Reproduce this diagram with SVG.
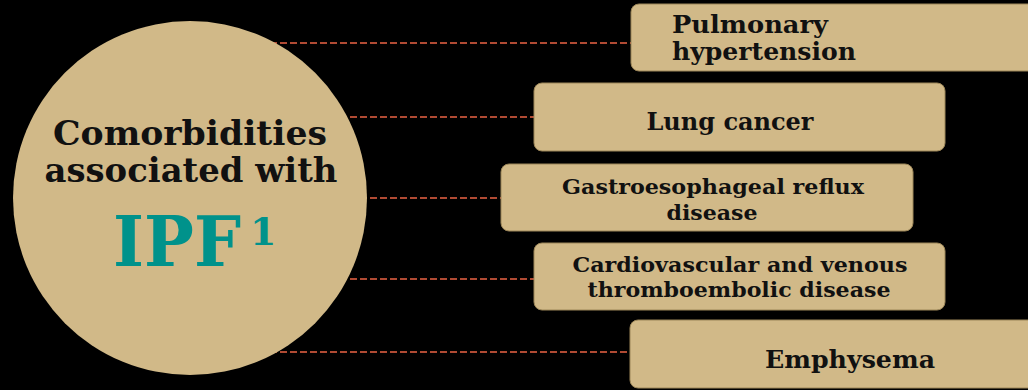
<svg xmlns="http://www.w3.org/2000/svg" width="1028" height="390" viewBox="0 0 1028 390">
<style>
.bg{fill:#000}
.shape{fill:#d1b988;stroke:#9c8658;stroke-width:1}
.conn{stroke:#b04a33;stroke-width:2;stroke-dasharray:7 3;fill:none}
.t{font-family:"DejaVu Serif","Liberation Serif",serif;font-weight:bold;fill:#111}
.big{font-size:34px}
.lab{font-size:24px}
.sm{font-size:21px}
.ipf{font-family:"DejaVu Serif","Liberation Serif",serif;font-weight:bold;fill:#00928b}
</style>
<rect class="bg" x="0" y="0" width="1028" height="390"/>
<g id="connectors">
<line class="conn" x1="190" y1="43" x2="631" y2="43"/>
<line class="conn" x1="190" y1="117" x2="534" y2="117"/>
<line class="conn" x1="190" y1="198" x2="501" y2="198"/>
<line class="conn" x1="190" y1="279" x2="534" y2="279"/>
<line class="conn" x1="190" y1="352" x2="630" y2="352"/>
</g>
<g id="center">
<circle cx="190" cy="198" r="177" fill="#d1b988"/>
<text class="t big" x="190" y="145" text-anchor="middle" textLength="274" lengthAdjust="spacingAndGlyphs">Comorbidities</text>
<text class="t big" x="191" y="182" text-anchor="middle" textLength="293" lengthAdjust="spacingAndGlyphs">associated with</text>
<text class="ipf" x="113" y="266" font-size="69" textLength="128" lengthAdjust="spacingAndGlyphs">IPF</text>
<text class="ipf" x="250" y="245" font-size="38">1</text>
</g>
<g id="n1">
<rect class="shape" x="631" y="4" width="420" height="67" rx="8"/>
<text class="t lab" x="672" y="33" textLength="156" lengthAdjust="spacingAndGlyphs">Pulmonary</text>
<text class="t lab" x="672" y="60" textLength="184" lengthAdjust="spacingAndGlyphs">hypertension</text>
</g>
<g id="n2">
<rect class="shape" x="534" y="83" width="411" height="68" rx="8"/>
<text class="t lab" x="730" y="130" text-anchor="middle" textLength="167" lengthAdjust="spacingAndGlyphs">Lung cancer</text>
</g>
<g id="n3">
<rect class="shape" x="501" y="164" width="412" height="67" rx="8"/>
<text class="t sm" x="713" y="194" text-anchor="middle" textLength="302" lengthAdjust="spacingAndGlyphs">Gastroesophageal reflux</text>
<text class="t sm" x="712" y="220" text-anchor="middle" textLength="91" lengthAdjust="spacingAndGlyphs">disease</text>
</g>
<g id="n4">
<rect class="shape" x="534" y="243" width="411" height="67" rx="8"/>
<text class="t sm" x="740" y="272" text-anchor="middle" textLength="335" lengthAdjust="spacingAndGlyphs">Cardiovascular and venous</text>
<text class="t sm" x="739" y="297" text-anchor="middle" textLength="303" lengthAdjust="spacingAndGlyphs">thromboembolic disease</text>
</g>
<g id="n5">
<rect class="shape" x="630" y="320" width="420" height="68" rx="8"/>
<text class="t lab" x="850" y="368" text-anchor="middle" textLength="170" lengthAdjust="spacingAndGlyphs">Emphysema</text>
</g>
</svg>
